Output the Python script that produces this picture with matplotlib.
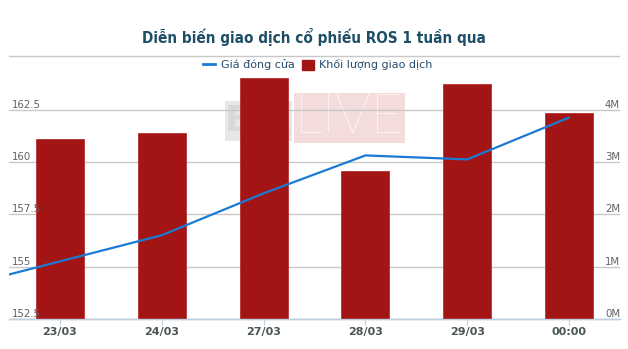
import matplotlib
matplotlib.use("Agg")
import matplotlib.pyplot as plt
from matplotlib.lines import Line2D
from matplotlib.patches import Patch, Rectangle
import numpy as np

# data
dates = ['23/03', '24/03', '27/03', '28/03', '29/03', '00:00']
volume = [3.44, 3.56, 4.61, 2.83, 4.49, 3.94]          # millions of shares
price = [155.25, 156.5, 158.5, 160.31, 160.12, 162.12]  # closing price
prev_price = 154.0                                      # session before 23/03 (line enters from the left)
price_ticks = [152.5, 155, 157.5, 160, 162.5]
vol_ticks = [0, 1, 2, 3, 4]

bar_col = '#a31515'
line_col = '#1a7ad4'
grid_col = '#c8c8c8'
axis_col = '#c0d0e0'

fig = plt.figure(figsize=(6.28, 3.49), dpi=100)
W, H = 628, 349
ax = fig.add_axes([9 / W, 30 / H, 611 / W, 244 / H])
ax2 = ax.twinx()

x = np.arange(len(dates))

# volume bars (back)
ax.bar(x, volume, width=0.47, color=bar_col, edgecolor='#b83030', linewidth=0.6, zorder=3)
ax.set_ylim(0, 4.66)
ax.set_xlim(-0.5, len(dates) - 0.5)
ax.set_yticks(vol_ticks)
ax.set_yticklabels([f'{v}M' for v in vol_ticks])
ax.yaxis.set_ticks_position('right')
ax.tick_params(axis='y', length=0, pad=0, labelsize=7.3, labelcolor='#606060')
for lbl in ax.get_yticklabels():
    lbl.set_horizontalalignment('right')
    lbl.set_verticalalignment('bottom')
ax.grid(axis='y', color=grid_col, linewidth=1)
ax.set_axisbelow(True)

# watermark behind grid and bars (pixel boxes inside the plot area)
def px_box(x0, y0, x1, y1):
    # figure pixels (top-left origin) -> axes fraction
    return ((x0 - 9) / 611, (319 - y1) / 244, (x1 - x0) / 611, (y1 - y0) / 244)

bx, by, bw, bh = px_box(225, 101, 292, 141)
ax.add_patch(Rectangle((bx, by), bw, bh, transform=ax.transAxes, facecolor='#e6e8e8',
                       edgecolor='none', zorder=0.2))
ax.text(bx + bw / 2, by + bh / 2, 'BIZ', transform=ax.transAxes, fontsize=26, fontweight='bold',
        color='#d8dada', ha='center', va='center', zorder=0.3)
lx, ly, lw, lh = px_box(294, 93, 405, 143)
ax.add_patch(Rectangle((lx, ly), lw, lh, transform=ax.transAxes, facecolor='#f4dcdc',
                       edgecolor='none', zorder=0.2))
ax.text(lx + lw / 2, ly + lh / 2, 'LIVE', transform=ax.transAxes, fontsize=40, family='Lato',
        fontweight='light', color='white', ha='center', va='center', zorder=0.3)

# price line (front)
ax2.plot(np.r_[-1, x], np.r_[prev_price, price], color=line_col, linewidth=1.6,
         solid_capstyle='round', zorder=5)
ax2.set_ylim(152.5, 152.5 + 4.66 * 2.5)
ax2.set_xlim(-0.5, len(dates) - 0.5)
ax2.set_yticks(price_ticks)
ax2.set_yticklabels([f'{p:g}' for p in price_ticks])
ax2.yaxis.set_ticks_position('left')
ax2.tick_params(axis='y', length=0, pad=-2, labelsize=7.3, labelcolor='#606060')
for lbl in ax2.get_yticklabels():
    lbl.set_horizontalalignment('left')
    lbl.set_verticalalignment('bottom')

for a in (ax, ax2):
    for s in ('top', 'left', 'right'):
        a.spines[s].set_visible(False)
    a.spines['bottom'].set_color(axis_col)
    a.spines['bottom'].set_linewidth(1)

ax.set_xticks(x)
ax.set_xticklabels(dates, fontsize=8, fontweight='bold', color='#4a5555')
ax.tick_params(axis='x', length=4, color=axis_col, pad=2)
ax2.tick_params(axis='x', length=0)

# title, rule and legend
fig.text(314 / W, 1 - 37 / H, 'Diễn biến giao dịch cổ phiếu ROS 1 tuần qua', ha='center', va='center',
         fontsize=11, fontweight='bold', fontstretch='condensed', family='DejaVu Sans', color='#1d4e66')
fig.add_artist(Line2D([9 / W, 619 / W], [1 - 56 / H] * 2, transform=fig.transFigure,
                      color='#c8c8c8', linewidth=1))
handles = [Line2D([], [], color=line_col, linewidth=2),
           Patch(facecolor=bar_col, edgecolor=bar_col)]
fig.legend(handles, ['Giá đóng cửa', 'Khối lượng giao dịch'], loc='center',
           bbox_to_anchor=(318 / W, 1 - 65 / H), ncol=2, frameon=False,
           fontsize=8, labelcolor='#274b6d', handlelength=1.1, handleheight=1.0,
           handletextpad=0.5, columnspacing=0.6, borderpad=0)

fig.savefig('out.png', dpi=100)
